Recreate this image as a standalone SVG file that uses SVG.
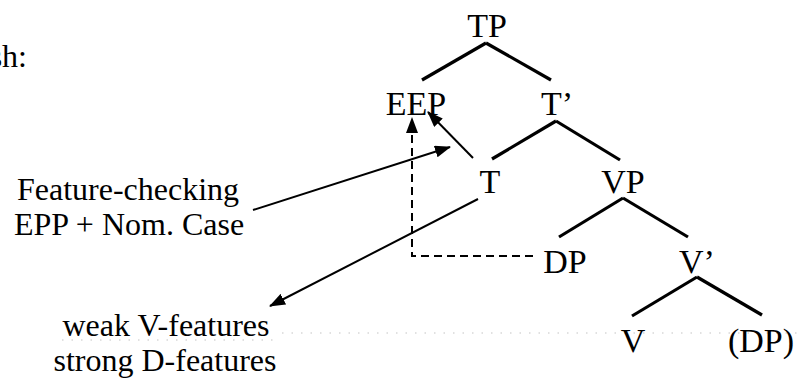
<svg xmlns="http://www.w3.org/2000/svg" width="799" height="378" viewBox="0 0 799 378">
<style>
text { font-family: "Liberation Serif", "Times New Roman", serif; fill: #000; }
.n { font-size: 34px; text-anchor: middle; }
.lab { font-size: 32px; text-anchor: middle; }
.edge { stroke: #000; stroke-width: 3.2; stroke-linecap: butt; fill: none; }
.arr { stroke: #000; stroke-width: 2; fill: none; }
.dash { stroke: #000; stroke-width: 2; fill: none; stroke-dasharray: 8 5; }
.noise { stroke: #c4c4c4; stroke-width: 1.2; fill: none; stroke-dasharray: 1.5 8; }
</style>
<defs>
<marker id="ah" markerUnits="userSpaceOnUse" markerWidth="16" markerHeight="12" refX="15" refY="6" orient="auto">
<path d="M0,0 L16,6 L0,12 z" fill="#000"/>
</marker>
</defs>
<rect width="799" height="378" fill="#fff"/>
<text id="sh" class="lab" x="27" y="67" style="text-anchor:end">sh:</text>
<g id="connectors">
<line class="edge" x1="486" y1="43" x2="422" y2="80"/>
<line class="edge" x1="486" y1="43" x2="551" y2="80"/>
<line class="edge" x1="556" y1="121" x2="492" y2="159"/>
<line class="edge" x1="556" y1="121" x2="620" y2="160"/>
<line class="edge" x1="623" y1="198" x2="559" y2="237"/>
<line class="edge" x1="623" y1="198" x2="688" y2="237"/>
<line class="edge" x1="697" y1="277" x2="632" y2="316"/>
<line class="edge" x1="697" y1="277" x2="762" y2="315"/>
<line class="arr" x1="473" y1="158" x2="428" y2="112" marker-end="url(#ah)"/>
<line class="arr" x1="253" y1="210" x2="450" y2="147" marker-end="url(#ah)"/>
<line class="arr" x1="478" y1="199" x2="270" y2="306" marker-end="url(#ah)"/>
<path class="dash" d="M533,256 H412 V118" marker-end="url(#ah)"/>
</g>
<g id="noise">
<line class="noise" x1="62" y1="340" x2="276" y2="340"/>
<line class="noise" x1="282" y1="333" x2="798" y2="333"/>
</g>
<g id="node-TP"><text class="n" x="487" y="37">TP</text></g>
<g id="node-EEP"><text class="n" x="416" y="115">EEP</text></g>
<g id="node-Tbar"><text class="n" x="557" y="115">T’</text></g>
<g id="node-T"><text class="n" x="490" y="193">T</text></g>
<g id="node-VP"><text class="n" x="623" y="193">VP</text></g>
<g id="node-DP"><text class="n" x="565" y="273">DP</text></g>
<g id="node-Vbar"><text class="n" x="697" y="273">V’</text></g>
<g id="node-V"><text class="n" x="633" y="352">V</text></g>
<g id="node-DP2"><text class="n" x="761" y="352">(DP)</text></g>
<g id="label-feature">
<text class="lab" x="128" y="200">Feature-checking</text>
<text class="lab" x="129" y="235">EPP + Nom. Case</text>
</g>
<g id="label-weak">
<text class="lab" x="166" y="336">weak V-features</text>
<text class="lab" x="165" y="371">strong D-features</text>
</g>
</svg>
